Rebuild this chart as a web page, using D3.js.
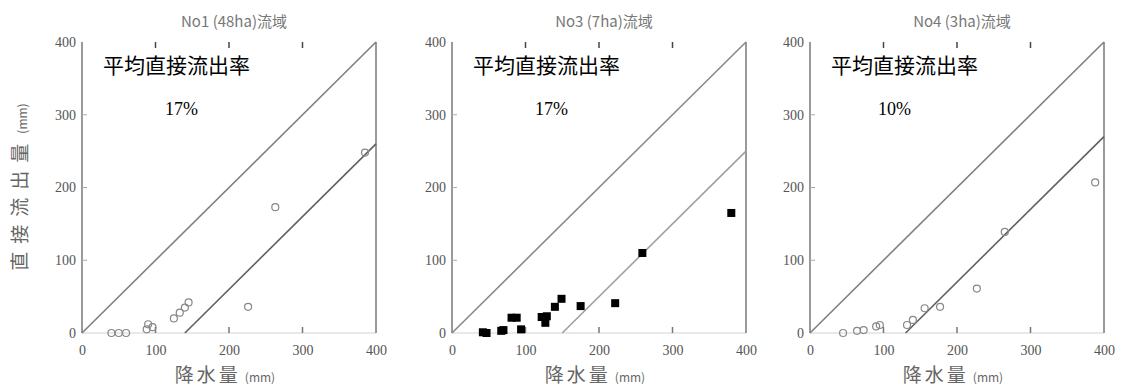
<!DOCTYPE html>
<html><head><meta charset="utf-8">
<script src="https://cdn.jsdelivr.net/npm/d3@7"></script>
<style>body{margin:0;background:#fff}</style></head>
<body><svg id="c" width="1129" height="392"></svg>
<script>
const panelTitles = ["No1 (48ha)流域", "No3 (7ha)流域", "No4 (3ha)流域"];
const rates = ["17%", "17%", "10%"];
const ticks = [0, 100, 200, 300, 400];
const offsets = [140, 150, 130]; // second reference line y = x - offset
const p1x = [40, 50, 60, 88, 90, 96, 125, 133, 140, 145, 226, 263, 385];
const p1y = [0, 0, 0, 5, 12, 8, 20, 28, 35, 42, 36, 173, 248];
const p2x = [42, 47, 67, 70, 81, 88, 94, 122, 127, 129, 140, 149, 175, 222, 259, 380];
const p2y = [1, 0, 3, 4, 21, 21, 5, 22, 14, 23, 36, 47, 37, 41, 110, 165];
const p3x = [45, 64, 73, 90, 95, 132, 140, 156, 177, 227, 265, 388];
const p3y = [0, 3, 4, 9, 11, 11, 18, 34, 36, 61, 139, 207];

const svg = d3.select("#c");
const lefts = [82, 452, 810];
const W = 294, plotTop = 42, plotBottom = 333;
const series = [[p1x, p1y], [p2x, p2y], [p3x, p3y]];
const serif = "'Liberation Serif', serif";
const cjk = "'Noto Sans CJK JP', sans-serif";

series.forEach((s, i) => {
  const x = d3.scaleLinear().domain([0, 400]).range([lefts[i], lefts[i] + W]);
  const y = d3.scaleLinear().domain([0, 400]).range([plotBottom, plotTop]);
  const g = svg.append("g");
  // frame
  g.append("line").attr("x1", x(0)).attr("x2", x(400)).attr("y1", y(0)).attr("y2", y(0)).attr("stroke", "#e2e2e2").attr("stroke-width", 1.5);
  g.append("line").attr("x1", x(0)).attr("x2", x(0)).attr("y1", y(0)).attr("y2", y(400)).attr("stroke", "#9a9a9a").attr("stroke-width", 2);
  g.append("line").attr("x1", x(400)).attr("x2", x(400)).attr("y1", y(0)).attr("y2", y(400)).attr("stroke", "#9a9a9a").attr("stroke-width", 2);
  // axes
  const ax = g.append("g").attr("transform", `translate(0,${plotBottom})`)
    .call(d3.axisBottom(x).tickValues(ticks).tickSize(0).tickPadding(12));
  ax.select(".domain").remove();
  ax.selectAll("text").attr("font-family", serif).attr("font-size", 14).attr("fill", "#555");
  const ay = g.append("g").attr("transform", `translate(${x(0)},0)`)
    .call(d3.axisLeft(y).tickValues(ticks).tickSize(0).tickPadding(6));
  ay.select(".domain").remove();
  ay.selectAll("text").attr("font-family", serif).attr("font-size", 14).attr("fill", "#555");
  // inner tick marks
  [100, 200, 300].forEach(t => {
    g.append("line").attr("x1", x(t)).attr("x2", x(t)).attr("y1", y(400)).attr("y2", y(400) + 6).attr("stroke", "#444").attr("stroke-width", 1.5);
    g.append("line").attr("x1", x(t)).attr("x2", x(t)).attr("y1", y(0)).attr("y2", y(0) - 6).attr("stroke", "#777").attr("stroke-width", 1.5);
    g.append("line").attr("x1", x(0)).attr("x2", x(0) + 5).attr("y1", y(t)).attr("y2", y(t)).attr("stroke", "#aaa").attr("stroke-width", 1);
  });
  // reference lines
  g.append("line").attr("x1", x(0)).attr("y1", y(0)).attr("x2", x(400)).attr("y2", y(400))
    .attr("stroke", i === 1 ? "#8a8a8a" : "#808080").attr("stroke-width", 1.6);
  g.append("line").attr("x1", x(offsets[i])).attr("y1", y(0)).attr("x2", x(400)).attr("y2", y(400 - offsets[i]))
    .attr("stroke", i === 1 ? "#a0a0a0" : "#606060").attr("stroke-width", 1.6);
  // points
  const pts = s[0].map((v, k) => [v, s[1][k]]);
  if (i === 1) {
    g.selectAll("rect.pt").data(pts).join("rect").attr("class", "pt")
      .attr("x", d => x(d[0]) - 4).attr("y", d => y(d[1]) - 4).attr("width", 8).attr("height", 8).attr("fill", "#000");
  } else {
    g.selectAll("circle.pt").data(pts).join("circle").attr("class", "pt")
      .attr("cx", d => x(d[0])).attr("cy", d => y(d[1])).attr("r", 3.5)
      .attr("fill", "none").attr("stroke", "#888").attr("stroke-width", 1.2);
  }
  // titles
  g.append("text").attr("x", x(200) + 5).attr("y", 27).attr("text-anchor", "middle")
    .attr("font-family", cjk).attr("font-size", 15).attr("fill", "#777").text(panelTitles[i]);
  const xt = g.append("text").attr("x", x(200) - 4).attr("y", 382).attr("text-anchor", "middle")
    .attr("font-family", cjk).attr("font-size", 19).attr("fill", "#666");
  xt.append("tspan").attr("letter-spacing", 3).text("降水量");
  xt.append("tspan").attr("font-size", 12).attr("dx", 4).text("(mm)");
  g.append("text").attr("x", x(0) + 21).attr("y", 73)
    .attr("font-family", cjk).attr("font-size", 21).attr("fill", "#000").text("平均直接流出率");
  g.append("text").attr("x", x(0) + (i === 2 ? 68 : 83)).attr("y", 115)
    .attr("font-family", serif).attr("font-size", 18).attr("fill", "#000").text(rates[i]);
});
const yt = svg.append("text").attr("transform", "translate(27,187) rotate(-90)").attr("text-anchor", "middle")
  .attr("font-family", cjk).attr("font-size", 19).attr("fill", "#666");
yt.append("tspan").attr("letter-spacing", 8).text("直接流出量");
yt.append("tspan").attr("font-size", 12).attr("dx", 2).text("(mm)");
</script></body></html>
